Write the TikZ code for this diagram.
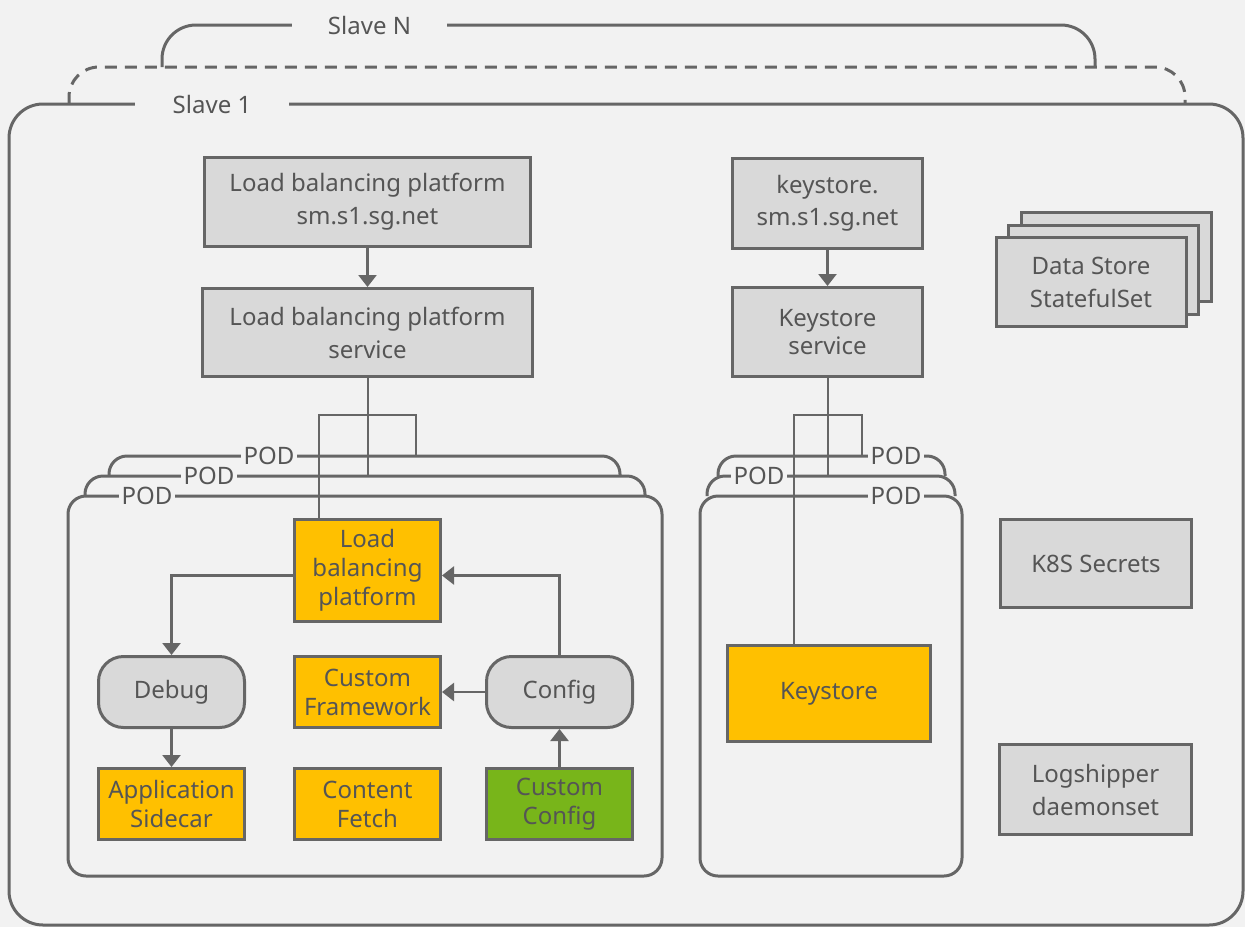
\documentclass[tikz,border=0pt]{standalone}
\usepackage{fontspec}
\setmainfont{Noto Sans}
\usetikzlibrary{arrows.meta}
\usetikzlibrary{positioning}
\definecolor{canvas}{HTML}{F2F2F2}
\definecolor{wire}{HTML}{666666}
\definecolor{boxgray}{HTML}{D9D9D9}
\definecolor{ink}{HTML}{555555}
\definecolor{amber}{HTML}{FFC000}
\definecolor{leaf}{HTML}{78B51A}

\begin{document}
\begin{tikzpicture}[x=1pt,y=-1pt,>={Triangle[width=18pt,length=12pt]},
  host node/.style={rectangle,draw=wire,line width=3pt,fill=boxgray,text=ink,align=center,inner sep=0pt,font=\fontsize{24}{33}\selectfont},
  pod node/.style={host node,fill=amber,minimum width=146pt,minimum height=71pt,font=\fontsize{24}{29}\selectfont},
  side node/.style={pod node,fill=boxgray,rounded corners=25pt},
  tag node/.style={fill=canvas,text=ink,inner ysep=2pt,inner xsep=4pt,font=\fontsize{24}{26}\selectfont},
  frame/.style={draw=wire,line width=3pt,rounded corners=34pt},
  pod/.style={draw=wire,line width=3pt,rounded corners=18pt},
  flow/.style={->,draw=wire,line width=2.5pt},
  link/.style={draw=wire,line width=2pt}]
		\useasboundingbox[fill=canvas] (0,0) rectangle (1245,927);

		% slaves
		\draw[frame] (162,67) -- (162,25) -- (1095,25) -- (1095,67);
		\draw[frame,dashed,dash pattern=on 12pt off 8pt,rounded corners=30pt] (69,104) -- (69,67) -- (1185,67) -- (1185,104);
		\draw[frame] (9,104) rectangle (1243,925);

		% pods
		\draw[pod] (68,496) rectangle (662,876);
		\draw[pod] (85,496) -- (85,476) -- (645,476) -- (645,496);
		\draw[pod] (109,476) -- (109,456) -- (620,456) -- (620,476);
		\draw[pod] (700,496) rectangle (962,876);
		\draw[pod] (707,496) -- (707,476) -- (955,476) -- (955,496);
		\draw[pod] (718,476) -- (718,456) -- (945,456) -- (945,476);

		\node[host node,minimum width=326pt,minimum height=89pt] (lbhost) at (367.5,202) {Load balancing platform\\sm.s1.sg.net};
		\node[host node,minimum width=330pt,minimum height=88pt,node distance=130.5pt] (lbsvc) [below of=lbhost] {Load balancing platform\\service};
		\node[host node,minimum width=190pt,minimum height=90pt,font=\fontsize{24}{32}\selectfont] (kshost) at (827.5,203.5) {keystore.\\sm.s1.sg.net};
		\node[host node,minimum width=190pt,minimum height=89pt,node distance=128.5pt,font=\fontsize{24}{28}\selectfont] (kssvc) [below of=kshost] {Keystore\\service};

		\node[host node,minimum width=190pt,minimum height=89pt] (store3) at (1116.5,257) {};
		\node[host node,minimum width=190pt,minimum height=89pt,node distance=18pt] (store2) [below left of=store3] {};
		\node[host node,minimum width=190pt,minimum height=89pt,node distance=18pt] (store) [below left of=store2] {Data Store\\StatefulSet};
		\node[host node,minimum width=191pt,minimum height=88pt] (secrets) at (1096,563.5) {K8S Secrets};
		\node[host node,minimum width=192pt,minimum height=90pt] (logship) at (1095.5,789.5) {Logshipper\\daemonset};

		\node[pod node,minimum width=203pt,minimum height=96pt] (keystore) at (829,693.5) {Keystore};
		\node[pod node,minimum height=102pt] (lbctr) at (367.5,570.5) {Load\\balancing\\platform};
		\node[pod node,node distance=121.5pt] (framework) [below of=lbctr] {Custom\\Framework};
		\node[side node,node distance=196pt] (debug) [left of=framework] {Debug};
		\node[side node,node distance=192pt] (config) [right of=framework] {Config};
		\node[pod node,node distance=112pt] (sidecar) [below of=debug] {Application\\Sidecar};
		\node[pod node,node distance=112pt] (fetch) [below of=framework] {Content\\Fetch};
		\node[pod node,fill=leaf,node distance=112pt] (cconfig) [below of=config] {Custom\\Config};

		% service taps into the pods
		\coordinate (lbfeed) at (367.5,476);
		\coordinate (lbtap) at (319,415);
		\coordinate (lbback) at (416,456);
		\draw[link] (lbsvc.south) -- (lbfeed);
		\draw[link] (lbctr.north -| lbtap) -- (lbtap) -| (lbback);
		\coordinate (ksfeed) at (827.5,476);
		\coordinate (kstap) at (794,415);
		\coordinate (ksback) at (862,456);
		\draw[link] (kssvc.south) -- (ksfeed);
		\draw[link] (keystore.north -| kstap) -- (kstap) -| (ksback);

		\draw[flow] (lbhost) -- (lbsvc);
		\draw[flow] (kshost) -- (kssvc);
		\draw[flow] ([yshift=-5pt]lbctr.west) -| (debug.north);
		\draw[flow] (config.north) |- ([yshift=-5pt]lbctr.east);
		\draw[flow] (config) -- (framework);
		\draw[flow] (debug) -- (sidecar);
		\draw[flow] (cconfig) -- (config);

		% labels on the outlines
		\node[tag node,inner xsep=36pt] (slaveN) at (369.5,25) {Slave N};
		\node[tag node,inner xsep=38pt] (slave1) at (212,104) {Slave 1};
		\node[tag node,inner xsep=3pt] (podA1) at (147,496) {POD};
		\node[tag node,inner xsep=3pt] (podA2) at (209,476) {POD};
		\node[tag node,inner xsep=3pt] (podA3) at (269,456) {POD};
		\node[tag node,inner xsep=3pt] (podB1) at (896,496) {POD};
		\node[tag node,inner xsep=3pt] (podB2) at (759,476) {POD};
		\node[tag node,inner xsep=3pt] (podB3) at (896,456) {POD};
	\end{tikzpicture}
\end{document}
